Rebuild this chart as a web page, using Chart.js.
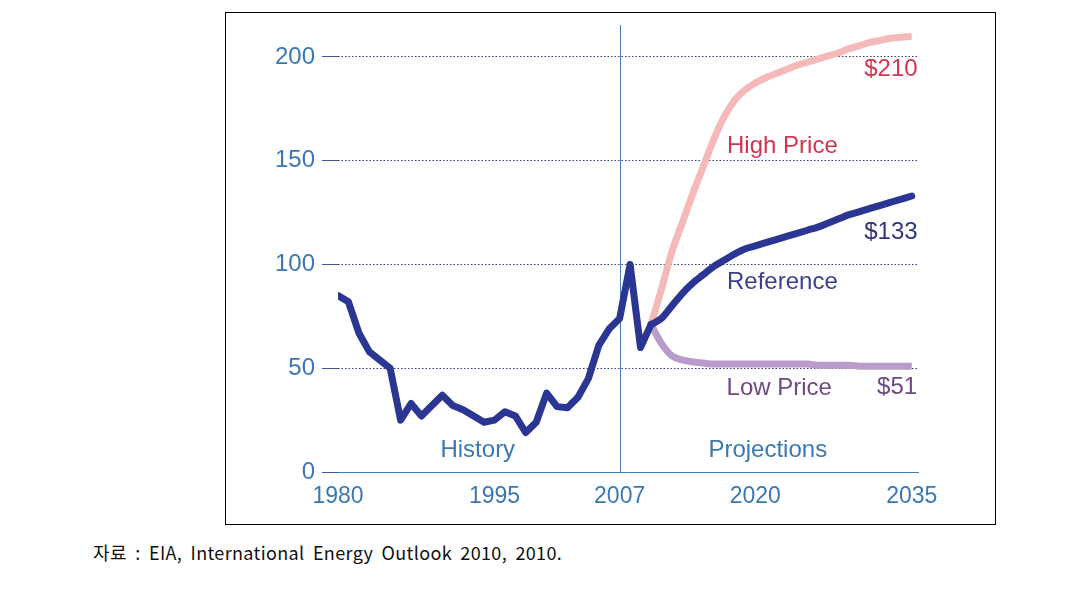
<!DOCTYPE html>
<html>
<head>
<meta charset="utf-8">
<script src="https://cdn.jsdelivr.net/npm/chart.js@4"></script>
<style>
  html, body { margin: 0; padding: 0; background: #fff; }
  body { width: 1091px; height: 593px; position: relative; overflow: hidden; }
  #box { position: absolute; left: 225px; top: 12px; width: 769px; height: 511px; border: 1px solid #000; }
  #box canvas { display: block; }
  #caption { position: absolute; left: 93px; top: 539px; font-family: "Noto Sans CJK KR", "Noto Sans", sans-serif; font-size: 18px; word-spacing: 4px; letter-spacing: 0.35px; color: #111; white-space: nowrap; }
</style>
</head>
<body>
<div id="box"><canvas id="c" width="769" height="511"></canvas></div>
<div id="caption">자료 : EIA, International Energy Outlook 2010, 2010.</div>
<script>
// ---- data ----
const histYears = [1980,1981,1982,1983,1984,1985,1986,1987,1988,1989,1990,1991,1992,1993,1994,1995,1996,1997,1998,1999,2000,2001,2002,2003,2004,2005,2006,2007,2008,2009,2010];
const histValues = [85,82,67,58,54,50,25,33,27,32,37,32,30,27,24,25,29,27,19,24,38,31.5,31,36,45,61,69,74,100,60,71];
const projYears = [2010,2011,2012,2013,2014,2015,2016,2017,2018,2019,2020,2021,2022,2023,2024,2025,2026,2027,2028,2029,2030,2031,2032,2033,2034,2035];
const refValues = [71,74,80,86,91,95,99,102,105,107.5,109,110.5,112,113.5,115,116.5,118,120,122,124,125.5,127,128.5,130,131.5,133];
const highValues = [71,88,106,120,134,147,160,171,179,184,187.5,190,192,194,196,197.5,199,200.5,202,204,205.5,207,208,209,209.5,210];
const lowValues = [71,62,56,54,53,52.5,52,52,52,52,52,52,52,52,52,52,51.5,51.5,51.5,51.5,51,51,51,51,51,51];
const xTickYears = [1980,1995,2007,2020,2035];
const yTickValues = [0,50,100,150,200];
const dividerYear = 2007;

const toPts = (xs, ys) => xs.map((x, i) => ({x: x, y: ys[i]}));

const annotations = [
  {text: 'High Price', x: 2022.6, y: 157, color: '#d3344e'},
  {text: '$210', x: 2033.0, y: 194, color: '#d3344e'},
  {text: 'Reference', x: 2022.6, y: 91.5, color: '#3b3f8c'},
  {text: '$133', x: 2033.0, y: 115.5, color: '#2f3382'},
  {text: 'Low Price', x: 2022.3, y: 40.5, color: '#6e4a82'},
  {text: '$51', x: 2033.6, y: 41, color: '#6e4a82'},
  {text: 'History', x: 1993.4, y: 10.5, color: '#3a78b2'},
  {text: 'Projections', x: 2021.2, y: 10.5, color: '#3a78b2'}
];

const overlay = {
  id: 'overlay',
  beforeDatasetsDraw(chart) {
    const {ctx, chartArea, scales: {x, y}} = chart;
    const px = Math.round(x.getPixelForValue(dividerYear)) + 0.5;
    ctx.save();
    ctx.strokeStyle = '#3f7fb6';
    ctx.lineWidth = 1;
    ctx.beginPath();
    ctx.moveTo(px, chartArea.top);
    ctx.lineTo(px, chartArea.bottom);
    ctx.stroke();
    ctx.restore();
  },
  afterDatasetsDraw(chart) {
    const {ctx, scales: {x, y}} = chart;
    ctx.save();
    ctx.font = '24px "Liberation Sans", Arial, sans-serif';
    ctx.textAlign = 'center';
    ctx.textBaseline = 'middle';
    annotations.forEach(a => {
      ctx.fillStyle = a.color;
      ctx.fillText(a.text, x.getPixelForValue(a.x), y.getPixelForValue(a.y));
    });
    ctx.restore();
  }
};

new Chart(document.getElementById('c'), {
  type: 'line',
  data: {
    datasets: [
      {label: 'History', data: toPts(histYears, histValues), borderColor: '#2b3592', borderWidth: 7, tension: 0, pointRadius: 0, order: 0, borderJoinStyle: 'round', borderCapStyle: 'round'},
      {label: 'Reference', data: toPts(projYears, refValues), borderColor: '#2b3592', borderWidth: 7, cubicInterpolationMode: 'monotone', pointRadius: 0, order: 0, borderCapStyle: 'round'},
      {label: 'Low Price', data: toPts(projYears, lowValues), borderColor: '#b99bcc', borderWidth: 7, cubicInterpolationMode: 'monotone', pointRadius: 0, order: 1},
      {label: 'High Price', data: toPts(projYears, highValues), borderColor: '#f5b9b9', borderWidth: 7, cubicInterpolationMode: 'monotone', pointRadius: 0, order: 2}
    ]
  },
  options: {
    responsive: false,
    animation: false,
    layout: {padding: {top: 12, right: 77, left: 0, bottom: 0}},
    plugins: {legend: {display: false}, tooltip: {enabled: false}, title: {display: false}},
    scales: {
      x: {
        type: 'linear',
        min: 1980,
        max: 2035.6,
        afterBuildTicks: s => { s.ticks = xTickYears.map(v => ({value: v})); },
        afterFit: s => { s.height = 52; s.paddingLeft = 0; s.paddingRight = 0; },
        grid: {display: false, drawTicks: false},
        border: {display: true, color: '#3f7fb6', width: 1},
        ticks: {
          color: '#3a78b2',
          font: {family: '"Liberation Sans", Arial, sans-serif', size: 23},
          padding: 11,
          maxRotation: 0,
          autoSkip: false,
          callback: v => String(v)
        }
      },
      y: {
        type: 'linear',
        min: 0,
        max: 215.4,
        afterBuildTicks: s => { s.ticks = yTickValues.map(v => ({value: v})); },
        afterFit: s => { s.width = 112; s.paddingTop = 0; s.paddingBottom = 0; },
        grid: {
          color: ctx => ctx.tick && ctx.tick.value === 0 ? 'rgba(0,0,0,0)' : '#2e3f72',
          tickColor: '#3a5a90',
          tickLength: 16,
          tickBorderDash: [],
          lineWidth: 1
        },
        border: {display: false, dash: [1.5, 2]},
        ticks: {
          color: '#3a78b2',
          font: {family: '"Liberation Sans", Arial, sans-serif', size: 24},
          padding: 7,
          callback: v => String(v)
        }
      }
    }
  },
  plugins: [overlay]
});
</script>
</body>
</html>
